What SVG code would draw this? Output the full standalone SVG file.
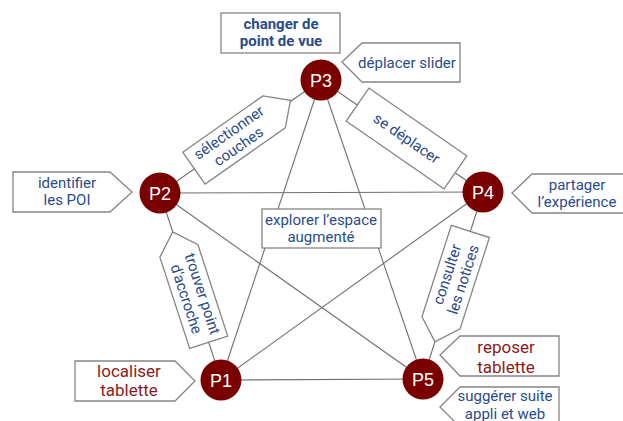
<svg xmlns="http://www.w3.org/2000/svg" width="623" height="421" viewBox="0 0 623 421">
<style>
.edge{stroke:#707070;stroke-width:1.1;fill:none}
.box{fill:#fff;stroke:#858585;stroke-width:1.3}
.node{fill:#7a0000}
.nl{font-family:"Liberation Sans",Arial,sans-serif;font-size:18px;fill:#fff;text-anchor:middle}
.b{font-family:Roboto,"Noto Sans",sans-serif;font-size:15px;fill:#2a4b8d;text-anchor:middle}
.bb{font-family:Roboto,"Noto Sans",sans-serif;font-size:15px;font-weight:bold;fill:#2a4b8d;text-anchor:middle}
.r{font-family:Roboto,"Noto Sans",sans-serif;font-size:17px;fill:#8e1a1a;text-anchor:middle}
</style>
<rect width="623" height="421" fill="#fff"/>
<g id="connectors">
<line class="edge" x1="221" y1="380" x2="160" y2="193"/>
<line class="edge" x1="221" y1="380" x2="321" y2="80"/>
<line class="edge" x1="221" y1="380" x2="483" y2="192"/>
<line class="edge" x1="221" y1="380" x2="423" y2="379"/>
<line class="edge" x1="160" y1="193" x2="321" y2="80"/>
<line class="edge" x1="160" y1="193" x2="483" y2="192"/>
<line class="edge" x1="160" y1="193" x2="423" y2="379"/>
<line class="edge" x1="321" y1="80" x2="483" y2="192"/>
<line class="edge" x1="321" y1="80" x2="423" y2="379"/>
<line class="edge" x1="483" y1="192" x2="423" y2="379"/>
</g>
<g id="label-selectionner" transform="translate(234,140) rotate(-35.06)">
<polygon class="box" points="-49,-19.5 49,-19.5 69,0 49,19.5 -49,19.5"/>
<text class="b" x="0" y="-4">sélectionner</text>
<text class="b" x="0" y="13">couches</text>
</g>
<g id="label-se-deplacer" transform="translate(406.5,138.5) rotate(34.66)">
<rect class="box" x="-59.5" y="-20" width="119" height="40"/>
<text class="b" x="0" y="5">se déplacer</text>
</g>
<g id="label-trouver" transform="translate(193.8,296.6) rotate(71.93)">
<polygon class="box" points="-48,-20 48,-20 48,20 -48,20 -68,0"/>
<text class="b" x="0" y="-4">trouver point</text>
<text class="b" x="0" y="13">d'accroche</text>
</g>
<g id="label-consulter" transform="translate(455.7,277.1) rotate(-72.2)">
<polygon class="box" points="-48,-20 48,-20 48,20 -48,20 -68,0"/>
<text class="b" x="0" y="-4">consulter</text>
<text class="b" x="0" y="13">les notices</text>
</g>
<g id="explorer">
<rect class="box" x="262" y="209" width="119" height="39"/>
<text class="b" x="321" y="225">explorer l’espace</text>
<text class="b" x="321" y="242">augmenté</text>
</g>
<g id="changer">
<rect class="box" x="221" y="13" width="119" height="40"/>
<text class="bb" x="281" y="29">changer de</text>
<text class="bb" x="281" y="46">point de vue</text>
</g>
<g id="deplacer-slider">
<polygon class="box" points="342,62 362,43 460,43 460,82 362,82"/>
<text class="b" x="407" y="68">déplacer slider</text>
</g>
<g id="identifier">
<polygon class="box" points="13,172 110,172 132,192 110,212 13,212"/>
<text class="b" x="67" y="188">identifier</text>
<text class="b" x="67" y="205">les POI</text>
</g>
<g id="partager">
<polygon class="box" points="512,193 532,174 630,174 630,213 532,213"/>
<text class="b" x="577" y="190">partager</text>
<text class="b" x="577" y="207">l’expérience</text>
</g>
<g id="localiser">
<polygon class="box" points="75,361 175,361 195,381 175,401 75,401"/>
<text class="r" x="129" y="377">localiser</text>
<text class="r" x="129" y="396">tablette</text>
</g>
<g id="reposer">
<polygon class="box" points="440,355 460,336 559,336 559,376 460,376"/>
<text class="r" x="506" y="353">reposer</text>
<text class="r" x="506" y="373">tablette</text>
</g>
<g id="suggerer">
<polygon class="box" points="440,407 460,387 559,387 559,427 460,427"/>
<text class="b" x="505" y="401">suggérer suite</text>
<text class="b" x="505" y="418.5">appli et web</text>
</g>
<g id="P3"><circle class="node" cx="321" cy="80" r="20.5"/><text class="nl" x="321" y="86.5">P3</text></g>
<g id="P2"><circle class="node" cx="160" cy="193" r="20.5"/><text class="nl" x="160" y="199.5">P2</text></g>
<g id="P4"><circle class="node" cx="483" cy="192" r="20.5"/><text class="nl" x="483" y="198.5">P4</text></g>
<g id="P1"><circle class="node" cx="221" cy="380" r="20.5"/><text class="nl" x="221" y="386.5">P1</text></g>
<g id="P5"><circle class="node" cx="423" cy="379" r="20.5"/><text class="nl" x="423" y="385.5">P5</text></g>
</svg>
